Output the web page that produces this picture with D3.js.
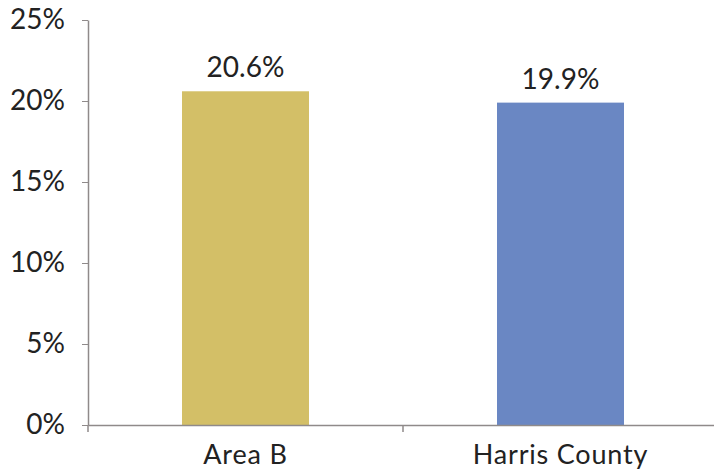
<!DOCTYPE html>
<html><head><meta charset="utf-8">
<script src="https://cdn.jsdelivr.net/npm/d3@7"></script>
<style>body{margin:0;background:#fff}svg{display:block}</style>
</head><body>
<script>
const categories = ["Area B", "Harris County"];
const values = [20.6, 19.9];
const valueLabels = ["20.6%", "19.9%"];
const colors = ["#D3BF67", "#6A87C3"];
const yTicks = [0, 5, 10, 15, 20, 25];

const W = 714, H = 472;
const m = {left: 88, right: -4, top: 20, bottom: 47};
const svg = d3.select("body").append("svg").attr("width", W).attr("height", H);
const x = d3.scaleBand().domain(categories).range([m.left, W - m.right]).paddingInner(0).paddingOuter(0);
const y = d3.scaleLinear().domain([0, 25]).range([H - m.bottom, m.top]);
const font = "Lato, 'Open Sans', sans-serif";
const barW = 127;
const axisColor = "#8f8a8a";

svg.selectAll("rect.bar").data(values).join("rect")
  .attr("class", "bar")
  .attr("x", (d, i) => x(categories[i]) + x.bandwidth() / 2 - barW / 2)
  .attr("width", barW)
  .attr("y", d => y(d))
  .attr("height", d => y(0) - y(d))
  .attr("fill", (d, i) => colors[i]);

svg.selectAll("text.val").data(values).join("text")
  .attr("class", "val")
  .attr("x", (d, i) => x(categories[i]) + x.bandwidth() / 2)
  .attr("y", d => y(d) - 14)
  .attr("text-anchor", "middle")
  .attr("font-family", font).attr("font-size", 28).attr("fill", "#222")
  .text((d, i) => valueLabels[i]);

const yAxis = svg.append("g").attr("transform", `translate(${m.left},0)`)
  .call(d3.axisLeft(y).tickValues(yTicks).tickFormat(d => d + "%").tickSize(6).tickSizeOuter(0).tickPadding(17));
yAxis.select(".domain").attr("stroke", axisColor).attr("stroke-width", 1.5);
yAxis.selectAll(".tick line").attr("stroke", axisColor);
yAxis.selectAll("text").attr("font-family", font).attr("font-size", 28).attr("fill", "#222");

const xAxis = svg.append("g").attr("transform", `translate(0,${y(0)})`)
  .call(d3.axisBottom(x).tickSize(0).tickPadding(20));
xAxis.select(".domain").attr("stroke", axisColor).attr("stroke-width", 1.5);
xAxis.selectAll("text").attr("font-family", font).attr("font-size", 27)
  .attr("letter-spacing", 0.8).attr("fill", "#222");
// boundary ticks between categories
svg.selectAll("line.bt").data([m.left, x(categories[1])]).join("line")
  .attr("class", "bt")
  .attr("x1", d => d).attr("x2", d => d)
  .attr("y1", y(0)).attr("y2", y(0) + 7)
  .attr("stroke", axisColor).attr("stroke-width", 1.5);
</script>
</body></html>
